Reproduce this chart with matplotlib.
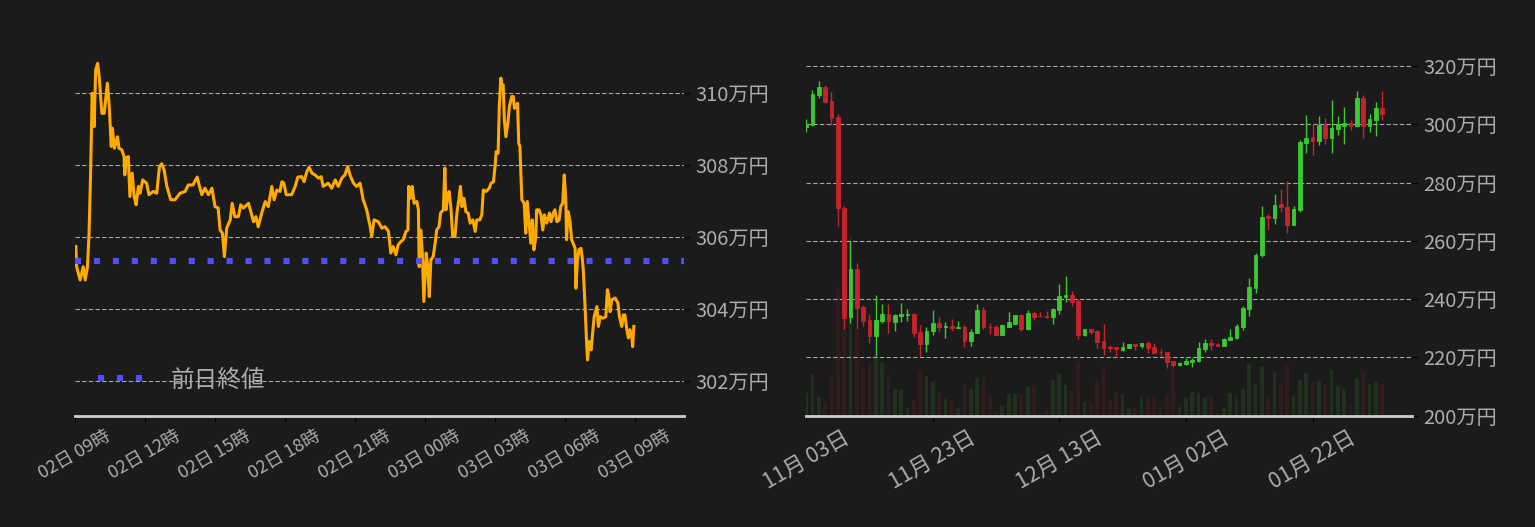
import pandas as pd
import matplotlib
matplotlib.use("Agg")
import matplotlib.pyplot as plt
import matplotlib.dates as mdates
from matplotlib.ticker import FuncFormatter

plt.rcParams['font.family'] = ['Noto Sans CJK JP', 'DejaVu Sans']

# ---- left chart: intraday price (万円), minutes after 02日 09:00 ----
intraday_start = '2023-02-02 09:00'
intraday_min = [2, 4, 13, 21, 26, 32, 36, 40, 44, 49, 53, 58, 62, 69, 75, 83, 88, 93, 96, 101,
                109, 113, 120, 126, 128, 131, 137, 141, 147, 152, 157, 163, 167, 174, 184, 190, 201, 210, 217, 223,
                229, 236, 246, 257, 270, 283, 291, 303, 314, 320, 326, 334, 343, 352, 360, 368, 373, 379, 384, 390,
                399, 404, 411, 420, 426, 433, 446, 452, 459, 465, 471, 480, 489, 497, 506, 512, 519, 527, 532, 537,
                543, 557, 566, 573, 583, 589, 596, 602, 609, 617, 626, 633, 638, 651, 660, 669, 677, 686, 694, 701,
                707, 716, 724, 733, 741, 750, 759, 763, 769, 780, 789, 797, 806, 812, 818, 825, 831, 838, 844, 851,
                856, 858, 863, 867, 872, 879, 883, 885, 889, 893, 897, 903, 907, 911, 915, 921, 926, 930, 936, 940,
                947, 951, 954, 958, 962, 967, 971, 977, 982, 987, 991, 995, 1000, 1005, 1011, 1016, 1023, 1029, 1033, 1041,
                1046, 1050, 1057, 1065, 1070, 1076, 1080, 1083, 1088, 1091, 1095, 1098, 1101, 1104, 1108, 1113, 1117, 1123, 1127, 1130,
                1136, 1138, 1141, 1144, 1149, 1155, 1159, 1163, 1167, 1172, 1176, 1180, 1185, 1187, 1193, 1198, 1203, 1207, 1213, 1220,
                1224, 1230, 1234, 1239, 1245, 1249, 1254, 1258, 1262, 1264, 1268, 1273, 1277, 1281, 1286, 1288, 1292, 1296, 1301, 1304,
                1307, 1311, 1316, 1318, 1322, 1327, 1331, 1335, 1342, 1346, 1350, 1358, 1365, 1369, 1372, 1376, 1380, 1389, 1396, 1400,
                1406, 1410, 1414, 1419, 1423, 1427, 1432, 1434, 1437]
intraday_price = [305.74, 305.18, 304.81, 305.18, 304.81, 305.18, 306.11, 307.78, 310.00, 309.07,
                  310.65, 310.83, 310.46, 309.44, 309.44, 310.28, 309.63, 308.52, 309.03, 308.47,
                  308.79, 308.47, 308.43, 308.24, 307.73, 308.19, 308.24, 307.13, 307.78, 307.13,
                  306.90, 307.41, 307.22, 307.59, 307.50, 307.18, 307.27, 307.22, 307.96, 308.04,
                  307.87, 307.41, 307.04, 307.04, 307.22, 307.27, 307.45, 307.45, 307.67, 307.41,
                  307.18, 307.36, 307.18, 307.36, 306.85, 306.81, 306.20, 306.11, 305.46, 306.25,
                  306.48, 306.94, 306.57, 306.57, 306.90, 306.81, 306.94, 306.71, 306.43, 306.57,
                  306.29, 306.67, 306.99, 306.85, 307.41, 307.04, 307.31, 307.27, 307.54, 307.50,
                  307.18, 307.18, 307.41, 307.67, 307.68, 307.54, 307.82, 307.94, 307.78, 307.73,
                  307.64, 307.68, 307.41, 307.50, 307.36, 307.59, 307.41, 307.64, 307.73, 307.96,
                  307.73, 307.50, 307.41, 307.50, 307.04, 306.76, 306.29, 306.02, 306.48, 306.43,
                  306.25, 306.29, 306.16, 305.56, 305.74, 305.51, 305.79, 305.88, 305.93, 306.16,
                  306.20, 307.41, 307.08, 307.41, 306.94, 306.99, 306.76, 305.18, 306.20, 305.56,
                  304.21, 305.56, 305.18, 304.35, 305.37, 305.46, 305.83, 306.20, 306.29, 306.67,
                  306.76, 307.92, 306.76, 307.13, 307.27, 306.76, 306.02, 306.02, 306.67, 307.04,
                  307.41, 306.85, 307.08, 306.71, 306.67, 306.39, 306.48, 306.16, 306.48, 306.48,
                  306.62, 307.31, 307.27, 307.36, 307.50, 307.54, 307.96, 308.38, 308.33, 309.63,
                  310.42, 310.18, 310.23, 309.26, 308.79, 309.17, 309.63, 309.91, 309.91, 309.58,
                  309.68, 309.72, 308.61, 308.52, 307.04, 306.94, 306.11, 306.99, 306.48, 305.83,
                  306.48, 305.65, 306.02, 306.76, 306.76, 306.62, 306.20, 306.62, 306.39, 306.67,
                  306.43, 306.67, 306.76, 306.43, 306.48, 306.85, 306.94, 307.73, 307.04, 305.93,
                  306.71, 306.43, 305.93, 305.83, 305.69, 304.58, 305.37, 305.65, 305.69, 305.46,
                  305.09, 304.21, 302.96, 302.59, 303.10, 302.87, 303.33, 303.79, 304.07, 303.52,
                  303.79, 303.75, 303.79, 304.54, 304.40, 303.93, 304.26, 304.31, 304.17, 303.79,
                  303.52, 303.84, 303.84, 303.43, 303.20, 303.43, 303.20, 302.96, 303.52]
prev_close = 305.33
left_yticks = [302, 304, 306, 308, 310]

# ---- right chart: daily candles (万円) from 11/03 ----
daily_start = '2022-11-03'
opens = [299.0, 299.8, 310.0, 312.8, 308.0, 302.5, 271.4, 233.9, 250.5, 237.3,
         232.8, 227.4, 232.5, 234.8, 232.2, 234.2, 234.6, 234.8, 228.7, 224.7,
         229.1, 231.7, 230.5, 230.8, 230.2, 230.3, 225.6, 228.4, 236.3, 230.6,
         230.6, 227.7, 230.6, 231.6, 234.4, 229.9, 235.4, 234.3, 234.2, 234.0,
         236.4, 240.9, 241.5, 239.4, 227.7, 229.8, 228.9, 225.5, 223.5, 223.5,
         222.7, 223.3, 224.6, 223.9, 224.9, 223.5, 221.9, 221.8, 218.7, 217.5,
         217.7, 218.4, 218.7, 223.0, 224.9, 224.7, 224.0, 225.9, 226.6, 230.5,
         236.6, 243.7, 255.0, 268.4, 267.7, 272.8, 271.7, 265.6, 270.7, 293.6,
         295.7, 294.3, 299.8, 295.3, 298.4, 299.4, 300.5, 299.4, 309.0, 299.4,
         301.5, 305.6]
highs = [301.8, 311.7, 314.8, 313.4, 311.1, 303.5, 272.1, 260.0, 252.3, 237.9,
         234.8, 241.3, 238.2, 238.2, 234.8, 238.6, 236.5, 235.2, 231.1, 230.5,
         236.2, 233.8, 232.1, 233.1, 232.4, 231.0, 229.8, 238.4, 237.4, 231.9,
         231.2, 231.5, 235.7, 234.4, 235.0, 236.4, 236.0, 235.7, 236.0, 237.1,
         245.2, 247.9, 242.8, 240.1, 229.8, 229.8, 229.3, 231.6, 224.1, 223.5,
         225.2, 224.6, 224.6, 224.9, 225.6, 224.9, 222.8, 221.8, 218.7, 218.3,
         219.9, 219.9, 225.2, 226.3, 226.3, 224.9, 226.6, 229.7, 231.4, 237.5,
         247.1, 256.0, 272.0, 269.3, 276.2, 277.9, 280.6, 272.1, 294.6, 303.2,
         300.1, 302.8, 302.2, 308.3, 302.8, 305.9, 301.5, 311.4, 310.0, 303.5,
         307.6, 311.4]
lows = [297.2, 299.4, 309.2, 307.3, 299.8, 265.0, 229.8, 231.9, 229.8, 230.8,
        225.0, 220.6, 231.9, 228.4, 229.1, 232.2, 232.5, 227.1, 220.6, 221.9,
        227.7, 228.8, 226.7, 229.1, 230.1, 223.6, 224.0, 228.4, 229.8, 227.9,
        227.7, 227.7, 230.4, 231.3, 228.9, 229.3, 233.0, 234.0, 233.7, 231.3,
        235.0, 238.9, 237.7, 226.2, 227.2, 227.9, 223.2, 220.9, 222.0, 220.0,
        222.2, 223.3, 222.5, 223.3, 221.5, 221.6, 220.6, 216.4, 216.8, 217.2,
        217.5, 216.8, 218.4, 221.9, 222.5, 224.0, 223.8, 225.9, 226.3, 229.5,
        234.2, 242.1, 254.4, 263.6, 265.9, 269.8, 262.8, 265.6, 270.0, 290.2,
        289.5, 292.9, 293.3, 290.2, 296.4, 293.3, 298.1, 299.1, 295.3, 297.4,
        296.0, 301.5]
closes = [300.0, 310.4, 312.8, 307.6, 302.3, 271.2, 233.6, 250.5, 237.0, 232.5,
          227.4, 232.8, 234.8, 232.5, 234.5, 234.8, 234.8, 228.4, 224.7, 229.0,
          231.7, 230.5, 230.8, 230.1, 230.4, 225.6, 228.6, 236.3, 230.4, 230.4,
          227.7, 231.0, 232.0, 234.4, 229.9, 235.4, 234.0, 234.1, 234.0, 236.7,
          241.1, 241.5, 239.1, 227.7, 229.8, 228.6, 225.3, 223.2, 223.3, 223.0,
          223.5, 224.6, 223.9, 224.9, 223.2, 221.6, 221.7, 218.5, 217.5, 218.1,
          218.7, 219.2, 223.1, 224.9, 224.2, 224.0, 226.3, 226.9, 230.7, 236.9,
          244.0, 255.3, 268.3, 267.7, 272.4, 271.5, 265.6, 271.1, 294.0, 295.3,
          294.3, 299.8, 295.3, 298.7, 300.0, 300.5, 299.4, 309.0, 299.4, 301.8,
          305.6, 303.5]
# relative volume
volumes = [23, 42, 19, 14, 40, 129, 130, 179, 86, 48, 52, 60, 54, 41, 27, 26, 8, 16, 45, 40,
           34, 24, 17, 14, 8, 32, 27, 38, 39, 20, 5, 10, 22, 22, 21, 29, 30, 3, 6, 36,
           42, 31, 25, 54, 14, 13, 35, 49, 17, 24, 22, 7, 8, 19, 19, 20, 10, 22, 47, 9,
           18, 24, 23, 18, 20, 3, 8, 23, 19, 27, 52, 32, 49, 18, 44, 32, 52, 20, 36, 43,
           33, 35, 31, 46, 30, 27, 10, 38, 45, 32, 34, 31]
right_yticks = [200, 220, 240, 260, 280, 300, 320]

BG = '#1b1b1b'
GRID = '#a8a8a8'
TXT = '#acacac'
UP = '#3cc832'
DOWN = '#c8232d'

fig = plt.figure(figsize=(15.35, 5.27), dpi=100, facecolor=BG)
ax1 = fig.add_axes([0.0489, 0.2112, 0.3970, 0.6939], facecolor=BG)
ax2 = fig.add_axes([0.5251, 0.2112, 0.3948, 0.6939], facecolor=BG)


def style_axes(ax, ylab_size, xlab_size):
    for s in ['top', 'left', 'right']:
        ax.spines[s].set_visible(False)
    ax.spines['bottom'].set_color('#cfcfcf')
    ax.spines['bottom'].set_linewidth(2)
    ax.set_axisbelow(True)
    ax.yaxis.grid(True, color=GRID, linestyle=(0, (4, 2)), linewidth=0.8)
    ax.yaxis.tick_right()
    ax.tick_params(axis='y', colors='black', labelcolor=TXT, labelsize=ylab_size,
                   length=4, pad=4)
    ax.tick_params(axis='x', colors='black', labelcolor=TXT, labelsize=xlab_size,
                   length=4, pad=4, labelrotation=30)
    ax.yaxis.set_major_formatter(FuncFormatter(lambda v, p: f'{v:.0f}万円'))


# left
t0 = pd.Timestamp(intraday_start)
times = t0 + pd.to_timedelta(intraday_min, unit='min')
ax1.plot(times, intraday_price, color='#ffaa00', linewidth=2.2, zorder=3)
ax1.axhline(prev_close, color='#4f4fff', linewidth=4.4, linestyle=(0, (1, 2.1)),
            zorder=4, label='前日終値')
ax1.set_xlim(t0, t0 + pd.Timedelta(hours=26.12))
ax1.set_ylim(301.04, 311.2)
ax1.set_yticks(left_yticks)
ax1.set_xticks(pd.date_range(t0, periods=9, freq='3h'))
ax1.xaxis.set_major_formatter(mdates.DateFormatter('%d日 %H時'))
style_axes(ax1, 14.5, 13)
leg = ax1.legend(loc='center left', bbox_to_anchor=(0.0377, 0.0976), frameon=False,
                 borderpad=0, borderaxespad=0, handlelength=1.9, handletextpad=1.2,
                 fontsize=17, labelcolor=TXT)

# right
days = pd.date_range(daily_start, periods=len(opens), freq='D')
x = mdates.date2num(days)
colors = [UP if c >= o else DOWN for o, c in zip(opens, closes)]
body_lo = [min(o, c) for o, c in zip(opens, closes)]
body_h = [abs(c - o) for o, c in zip(opens, closes)]

axv = ax2.twinx()
axv.bar(x, volumes, width=0.58, color=colors, alpha=0.13, linewidth=0)
axv.set_ylim(0, 365.7)
axv.axis('off')
ax2.set_zorder(axv.get_zorder() + 1)
ax2.patch.set_visible(False)

ax2.vlines(x, lows, highs, colors=colors, linewidth=1.0, zorder=3)
ax2.bar(x, body_h, bottom=body_lo, width=0.58, color=colors, edgecolor=colors,
        linewidth=0.6, zorder=4)
ax2.set_xlim(x[0], x[0] + 95.7)
ax2.set_ylim(200, 325.5)
ax2.set_yticks(right_yticks)
ax2.set_xticks(pd.date_range(daily_start, periods=5, freq='20D'))
ax2.xaxis.set_major_formatter(mdates.DateFormatter('%m月 %d日'))
style_axes(ax2, 14.5, 15.5)

fig.savefig('out.png', dpi=100, facecolor=BG)
